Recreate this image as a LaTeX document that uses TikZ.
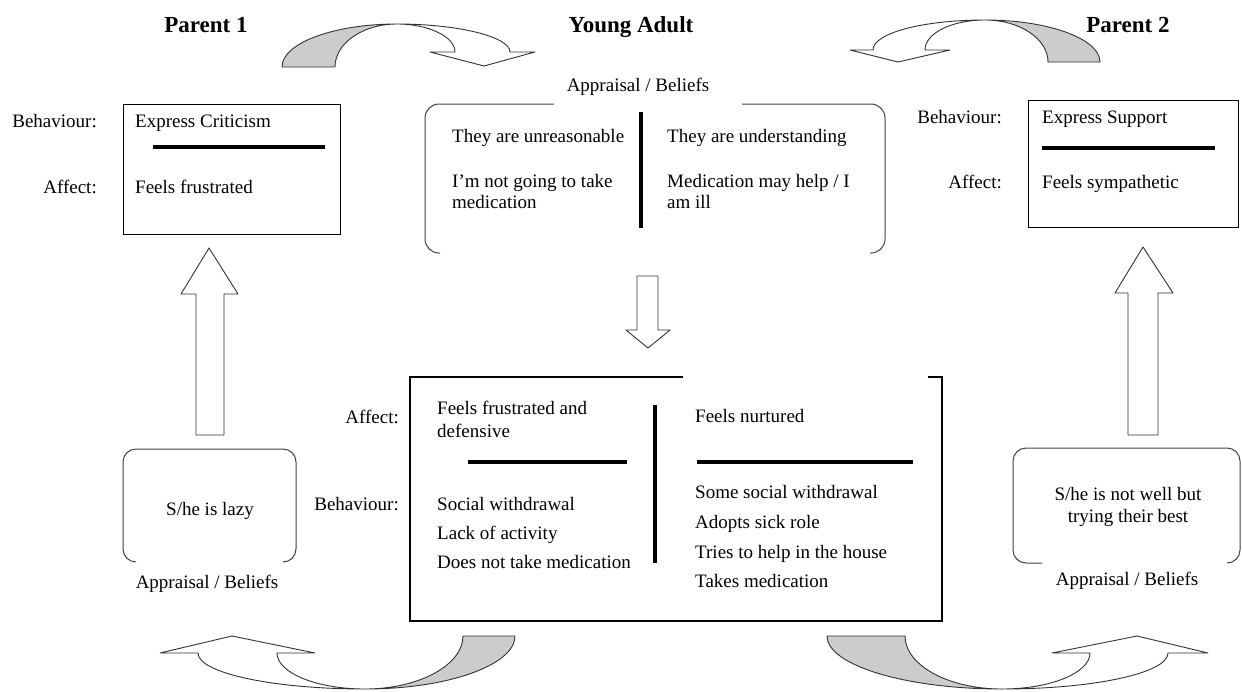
\documentclass[tikz,border=0pt]{standalone}
\usepackage{fontspec}
\setmainfont{Liberation Serif}
\begin{document}
\begin{tikzpicture}[x=1pt,y=-1pt,
  txt/.style={font=\fontsize{19}{21}\selectfont, inner sep=0pt},
  hdr/.style={font=\fontsize{23}{26}\selectfont\bfseries, inner sep=0pt},
  box/.style={draw, line width=1.2pt, inner sep=0pt, anchor=north west},
  bar/.style={line width=4pt},
  arrowline/.style={draw=black!80, line width=0.9pt, line join=round},
  grayfill/.style={arrowline, fill=gray!40},
  whitepart/.style={arrowline, fill=white},
  bracket/.style={draw=black!75, line width=1pt, rounded corners=14pt}]
\useasboundingbox (0,0) rectangle (1242,691);

% headers
\node[hdr, anchor=base] (h1) at (206,32) {Parent 1};
\node[hdr, anchor=base] (h2) at (631,32) {Young Adult};
\node[hdr, anchor=base] (h3) at (1128,32) {Parent 2};

% top curved arrows
\path[grayfill] (282,67) .. controls (282,43) and (334,24) .. (397,24) .. controls (363,24) and (335,43) .. (335,67) -- cycle;
\path[whitepart] (397,24) .. controls (459,24) and (510,37) .. (510,52) -- (535,52) -- (484,66) -- (430,52) -- (455,52) .. controls (455,37) and (429,24) .. (397,24) -- cycle;
\path[grayfill] (1100,62) .. controls (1100,39) and (1049,20) .. (985,20) .. controls (1020,20) and (1048,39) .. (1048,62) -- cycle;
\path[whitepart] (985,20) .. controls (923,20) and (873,33) .. (873,50) -- (850,50) -- (898,62) -- (950,50) -- (925,50) .. controls (925,33) and (952,20) .. (985,20) -- cycle;

% bottom curved arrows
\path[grayfill] (515,636) .. controls (515,665) and (448,689) .. (365,689) .. controls (419,689) and (463,665) .. (463,636) -- cycle;
\path[whitepart] (365,689) .. controls (273,689) and (198,673) .. (198,653) -- (160,653) -- (232,636) -- (315,653) -- (277,653) .. controls (277,673) and (317,689) .. (365,689) -- cycle;
\path[grayfill] (827,636) .. controls (827,665) and (905,689) .. (1002,689) .. controls (948,689) and (905,665) .. (905,636) -- cycle;
\path[whitepart] (1002,689) .. controls (1094,689) and (1168,673) .. (1168,653) -- (1208,653) -- (1137,636) -- (1052,653) -- (1090,653) .. controls (1090,673) and (1050,689) .. (1002,689) -- cycle;

% Parent 1 box
\node[box, minimum width=217pt, minimum height=130pt] (p1) at (123,104) {};
\node[txt, anchor=base east] (p1b) at (97,127) {Behaviour:};
\node[txt, anchor=base east] (p1a) at (97,193) {Affect:};
\node[txt, anchor=base west] (p1bt) at (135,127) {Express Criticism};
\node[txt, anchor=base west] (p1at) at (135,193) {Feels frustrated};
\draw[bar] (153,147) -- (325,147);

% Parent 2 box
\node[box, minimum width=210pt, minimum height=127pt] (p2) at (1028,100) {};
\node[txt, anchor=base east] (p2b) at (1002,123) {Behaviour:};
\node[txt, anchor=base east] (p2a) at (1002,188) {Affect:};
\node[txt, anchor=base west] (p2bt) at (1042,123) {Express Support};
\node[txt, anchor=base west] (p2at) at (1042,188) {Feels sympathetic};
\draw[bar] (1042,148) -- (1215,148);

% Young adult appraisal
\node[txt, anchor=base] (yal) at (638,91) {Appraisal / Beliefs};
\draw[bracket] (554,104) -- (425,104) -- (425,253) -- (440,253);
\draw[bracket] (742,104) -- (885,104) -- (885,253) -- (870,253);
\draw[bar] (641,112) -- (641,228);
\node[txt, anchor=base west] (ya1) at (452,142) {They are unreasonable};
\node[txt, anchor=base west] (ya2) at (452,187) {I’m not going to take};
\node[txt, anchor=base west] (ya3) at (452,208) {medication};
\node[txt, anchor=base west] (ya4) at (667,142) {They are understanding};
\node[txt, anchor=base west] (ya5) at (667,187) {Medication may help / I};
\node[txt, anchor=base west] (ya6) at (667,208) {am ill};

% down arrow
\path[arrowline, fill=white] (637,276) -- (658,276) -- (658,330) -- (670,330) -- (648,348) -- (626,330) -- (637,330) -- cycle;

% up arrows
\path[arrowline, fill=white] (196,435) -- (196,294) -- (181,294) -- (209,248) -- (238,294) -- (224,294) -- (224,435) -- cycle;
\path[arrowline, fill=white] (1128,435) -- (1128,293) -- (1115,293) -- (1143,247) -- (1173,293) -- (1158,293) -- (1158,435) -- cycle;

% left appraisal
\draw[bracket, rounded corners=13pt] (136,562) -- (123,562) -- (123,449) -- (296,449) -- (296,562) -- (283,562);
\node[txt, anchor=base] (l1) at (210,515) {S/he is lazy};
\node[txt, anchor=base] (l2) at (207,588) {Appraisal / Beliefs};

% right appraisal
\draw[bracket, rounded corners=13pt] (1042,563) -- (1013,563) -- (1013,448) -- (1240,448) -- (1240,563) -- (1227,563);
\node[txt, anchor=base] (r1) at (1128,500) {S/he is not well but};
\node[txt, anchor=base] (r2) at (1128,522) {trying their best};
\node[txt, anchor=base] (r3) at (1127,585) {Appraisal / Beliefs};

% bottom box
\draw[line width=1.2pt] (683,377) -- (410,377) -- (410,621) -- (942,621) -- (942,377) -- (928,377);
\draw[bar] (655,405) -- (655,563);
\draw[bar] (468,462) -- (627,462);
\draw[bar] (697,462) -- (913,462);
\node[txt, anchor=base east] (ba) at (399,423) {Affect:};
\node[txt, anchor=base east] (bb) at (399,510) {Behaviour:};
\node[txt, anchor=base west] (b1) at (437,414) {Feels frustrated and};
\node[txt, anchor=base west] (b2) at (437,437) {defensive};
\node[txt, anchor=base west] (b3) at (437,510) {Social withdrawal};
\node[txt, anchor=base west] (b4) at (437,539) {Lack of activity};
\node[txt, anchor=base west] (b5) at (437,568) {Does not take medication};
\node[txt, anchor=base west] (c1) at (695,422) {Feels nurtured};
\node[txt, anchor=base west] (c2) at (695,498) {Some social withdrawal};
\node[txt, anchor=base west] (c3) at (695,528) {Adopts sick role};
\node[txt, anchor=base west] (c4) at (695,558) {Tries to help in the house};
\node[txt, anchor=base west] (c5) at (695,587) {Takes medication};
\end{tikzpicture}
\end{document}
